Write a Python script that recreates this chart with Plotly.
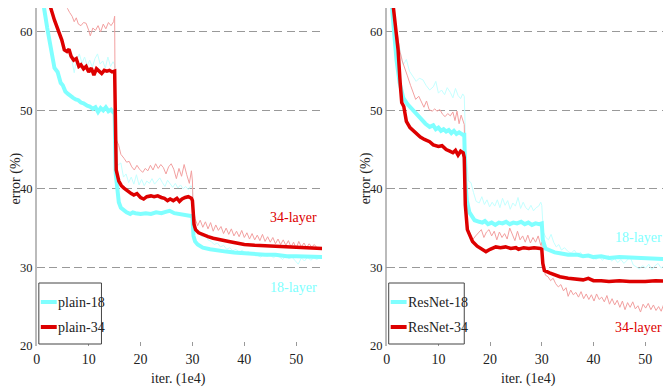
import plotly.graph_objects as go

# ---------------- data ----------------
# Left panel: plain networks
plain18_val_x = [1.0, 1.4, 2.0, 2.5, 3.0, 3.4, 4.0, 4.6, 5.0, 5.5, 6.0, 6.6, 7.0, 7.5, 8.0, 8.5, 9.0, 9.7, 10.2, 10.8,
                 11.3, 11.8, 12.3, 12.8, 13.3, 13.8, 14.3, 14.8, 15.0, 15.2, 15.5, 15.8, 16.2, 16.8, 17.3, 18.0, 18.5,
                 19.0, 20.0, 21.0, 22.0, 23.0, 24.0, 25.0, 25.6, 26.5, 27.5, 28.5, 29.5, 30.0, 30.2, 30.5, 31.0, 32.0,
                 33.4, 35.0, 36.5, 38.0, 39.8, 42.0, 44.0, 46.0, 48.2, 50.0, 52.0, 55.0]
plain18_val_y = [66.0, 63.0, 60.5, 58.5, 56.5, 55.4, 54.9, 53.5, 53.2, 52.4, 52.1, 51.7, 51.6, 51.4, 51.3, 51.0, 50.9, 50.6, 50.5, 50.2,
                 50.4, 49.8, 50.3, 50.0, 50.4, 49.9, 50.1, 49.7, 49.6, 42.0, 39.5, 38.3, 37.6, 37.2, 37.0, 36.8, 37.0,
                 36.9, 36.8, 36.9, 36.8, 37.0, 36.9, 37.1, 37.2, 36.9, 36.8, 36.7, 36.6, 36.5, 34.0, 33.3, 32.9, 32.5,
                 32.3, 32.1, 32.0, 31.9, 31.8, 31.8, 31.6, 31.6, 31.4, 31.4, 31.4, 31.3]

plain34_val_x = [2.0, 2.7, 3.4, 4.3, 4.8, 5.3, 5.8, 6.2, 6.6, 7.1, 7.6, 8.1, 8.5, 9.0, 9.5, 10.0, 10.5, 11.0, 11.5, 12.0,
                 12.5, 13.0, 13.5, 14.0, 14.5, 15.0, 15.1, 15.3, 15.8, 16.3, 16.8, 17.5, 18.2, 18.7, 19.3, 20.0, 20.6,
                 21.2, 22.0, 22.6, 23.3, 24.0, 24.6, 25.2, 25.7, 26.3, 27.0, 27.5, 28.0, 28.6, 29.2, 29.8, 30.0, 30.3,
                 30.6, 31.2, 32.1, 33.0, 34.0, 35.0, 36.0, 37.0, 38.5, 40.0, 42.0, 45.0, 47.0, 49.0, 50.0, 52.0, 55.0]
plain34_val_y = [65.0, 63.0, 61.5, 59.9, 59.0, 57.7, 57.5, 57.8, 56.9, 56.4, 56.6, 55.6, 55.8, 55.3, 55.6, 54.9, 55.4, 54.5, 55.3, 55.0,
                 54.7, 55.1, 55.0, 55.1, 54.9, 55.0, 48.0, 42.4, 41.0, 40.4, 40.1, 39.7, 39.4, 39.2, 39.4, 38.9, 38.7,
                 39.0, 39.1, 39.0, 39.1, 38.9, 38.8, 38.5, 38.7, 38.5, 38.8, 38.4, 38.7, 38.9, 39.0, 38.8, 38.5, 35.5,
                 34.8, 34.4, 34.1, 33.9, 33.7, 33.6, 33.4, 33.3, 33.1, 32.9, 32.8, 32.7, 32.6, 32.6, 32.5, 32.4, 32.4]

plain34_train_x = [5.5, 5.9, 6.3, 6.8, 7.2, 7.6, 8.0, 8.5, 9.0, 9.5, 10.0, 10.3, 10.8, 11.3, 11.8, 12.3, 12.8, 13.3, 13.8,
                   14.3, 14.8, 15.0, 15.1, 15.3, 15.8, 16.2, 16.8, 17.3, 17.8, 18.3, 18.8, 19.3, 19.8, 20.4, 20.9, 21.4,
                   21.9, 22.4, 22.9, 23.4, 23.9, 24.4, 24.9, 25.4, 25.9, 26.4, 26.9, 27.4, 27.9, 28.4, 28.9, 29.4, 29.8,
                   30.0, 30.1, 30.5, 31.0, 31.5, 32.0, 32.5, 33.0, 33.5, 34.0, 34.5, 35.0, 35.5, 36.0, 36.5, 37.0, 37.5,
                   38.0, 38.5, 39.0, 39.5, 40.0, 40.5, 41.0, 41.5, 42.0, 42.5, 43.0, 43.5, 44.0, 44.5, 45.0, 45.5, 46.0,
                   46.5, 47.0, 47.5, 48.0, 48.5, 49.0, 49.5, 50.0, 50.5, 51.0, 51.5, 52.0, 52.5, 53.0, 53.5, 54.0]
plain34_train_y = [64.0, 63.0, 62.5, 62.0, 61.3, 61.8, 61.0, 60.8, 61.2, 61.1, 60.2, 59.5, 60.5, 60.2, 60.8, 60.0, 61.0, 60.4, 61.2,
                   60.8, 61.3, 62.0, 50.0, 46.3, 45.5, 44.4, 43.9, 43.4, 43.5, 42.8, 42.4, 43.0, 42.5, 42.1, 42.6, 42.3,
                   43.0, 42.4, 43.2, 42.6, 43.1, 42.7, 41.9, 42.8, 43.2, 42.5, 41.3, 42.6, 41.6, 43.1, 41.8, 40.7, 42.3,
                   41.0, 38.0, 36.2, 35.3, 36.0, 35.1, 35.8, 34.9, 35.7, 34.6, 35.4, 34.7, 35.2, 34.3, 35.0, 34.2, 34.9,
                   34.0, 34.6, 33.9, 34.7, 33.8, 34.4, 33.6, 34.3, 33.5, 34.1, 33.4, 34.2, 33.3, 33.9, 33.2, 33.8, 33.0,
                   33.6, 32.9, 33.5, 32.8, 33.4, 32.6, 33.2, 32.4, 33.3, 32.6, 33.1, 32.5, 33.0, 32.6, 32.9, 32.5]

plain18_train_x = [6.0, 6.6, 7.2, 7.6, 8.2, 8.7, 9.2, 9.7, 10.2, 10.7, 11.2, 11.7, 12.2, 12.7, 13.2, 13.7, 14.2, 14.7, 15.0,
                   15.2, 15.6, 16.2, 16.7, 17.2, 17.7, 18.2, 18.7, 19.2, 19.7, 20.2, 20.7, 21.2, 21.7, 22.2, 22.7, 23.2,
                   23.7, 24.2, 24.7, 25.2, 25.7, 26.2, 26.7, 27.2, 27.7, 28.2, 28.7, 29.2, 29.7, 30.0, 30.2, 30.6, 31.2,
                   31.8, 32.5, 33.0, 33.6, 34.2, 34.8, 35.4, 36.0, 36.6, 37.2, 37.8, 38.4, 39.0, 39.6, 40.2, 40.8, 41.4,
                   42.0, 42.6, 43.2, 43.8, 44.4, 45.0, 45.6, 46.2, 46.8, 47.4, 48.0, 48.6, 49.2, 49.8, 50.4, 51.0, 51.6,
                   52.2, 52.8, 53.4, 54.0, 54.6]
plain18_train_y = [58.0, 57.0, 54.8, 56.3, 57.2, 56.0, 56.8, 55.7, 56.4, 55.5, 56.6, 57.2, 55.9, 56.3, 55.4, 56.8, 55.6, 56.2, 55.8,
                   46.0, 43.0, 43.3, 41.5, 41.9, 40.8, 41.5, 40.6, 41.8, 40.5, 41.2, 40.4, 41.0, 40.7, 41.3, 40.6, 41.0,
                   41.4, 40.8, 40.3, 41.1, 40.6, 40.2, 40.7, 40.1, 40.5, 40.0, 40.3, 39.9, 40.4, 40.1, 36.0, 35.0, 34.4,
                   33.9, 34.1, 33.5, 33.3, 32.9, 33.1, 32.6, 32.8, 32.3, 32.5, 32.1, 32.3, 31.9, 32.2, 31.8, 32.0, 31.6,
                   31.9, 31.5, 31.3, 31.7, 31.4, 31.6, 31.2, 31.5, 31.3, 31.0, 31.4, 31.1, 31.3, 30.9, 30.4, 31.2, 30.8,
                   31.3, 30.9, 31.2, 31.0, 31.3]

# Right panel: residual networks
res18_val_x = [0.5, 1.0, 1.5, 1.9, 2.5, 3.2, 4.0, 5.1, 6.0, 7.0, 7.5, 8.3, 9.0, 9.5, 10.0, 10.5, 11.0, 11.5, 12.0, 12.5,
               13.0, 13.5, 14.0, 14.7, 15.0, 15.2, 15.5, 16.0, 16.5, 17.0, 17.9, 18.5, 19.0, 19.6, 20.3, 21.0, 21.7,
               22.4, 23.1, 23.8, 24.5, 25.2, 26.0, 26.7, 27.4, 28.1, 28.8, 29.5, 30.0, 30.2, 30.7, 31.5, 32.5, 33.5,
               35.1, 37.0, 38.0, 39.0, 40.0, 41.5, 43.0, 45.0, 47.9, 50.0, 52.0, 55.0]
res18_val_y = [67.0, 63.0, 59.0, 56.4, 53.5, 51.6, 50.8, 50.0, 49.3, 48.6, 48.3, 47.9, 48.1, 47.6, 47.8, 47.4, 47.6, 47.3, 47.5, 47.1,
               47.4, 47.0, 47.2, 46.9, 46.9, 41.0, 38.5, 37.0, 36.4, 36.0, 35.8, 35.7, 35.9, 35.5, 35.7, 35.4, 35.7,
               35.6, 35.8, 35.5, 35.7, 35.6, 35.8, 35.5, 35.7, 35.4, 35.6, 35.5, 35.6, 33.5, 32.4, 32.2, 31.9, 31.8,
               31.6, 31.6, 31.4, 31.5, 31.3, 31.4, 31.2, 31.3, 31.2, 31.1, 31.1, 31.0]

res34_val_x = [0.8, 1.3, 1.8, 2.2, 2.6, 2.9, 3.3, 3.8, 4.5, 5.7, 6.5, 7.3, 8.3, 9.0, 10.0, 10.7, 11.5, 12.2, 12.8, 13.3,
               13.8, 14.3, 14.8, 15.0, 15.2, 15.6, 16.0, 16.6, 17.5, 18.5, 19.2, 20.0, 21.1, 22.0, 23.0, 24.0, 25.0,
               25.5, 26.5, 27.5, 28.5, 29.7, 30.0, 30.2, 30.5, 31.5, 32.5, 33.5, 35.1, 36.5, 38.0, 39.0, 40.0, 41.5,
               43.0, 45.0, 47.0, 50.0, 52.0, 55.0]
res34_val_y = [66.0, 63.0, 60.0, 57.7, 53.5, 51.0, 50.5, 48.6, 47.8, 47.1, 46.6, 46.3, 46.0, 45.6, 45.4, 45.5, 45.0, 44.8, 44.6, 44.9,
               44.3, 44.8, 44.6, 44.0, 38.0, 34.8, 34.2, 33.3, 32.7, 32.3, 32.0, 32.3, 32.6, 32.5, 32.6, 32.4, 32.5,
               32.3, 32.5, 32.4, 32.5, 32.4, 32.3, 30.5, 29.6, 29.3, 29.0, 28.8, 28.6, 28.5, 28.4, 28.6, 28.3, 28.3,
               28.2, 28.3, 28.2, 28.2, 28.3, 28.2]

res18_train_x = [2.0, 2.6, 3.2, 3.8, 4.4, 5.1, 5.7, 6.3, 7.0, 7.6, 8.3, 9.0, 9.5, 10.0, 10.6, 11.2, 11.7, 12.3, 12.8, 13.3,
                 13.8, 14.3, 14.7, 15.0, 15.3, 15.8, 16.3, 16.8, 17.3, 17.9, 18.4, 18.9, 19.4, 19.9, 20.4, 20.9, 21.4,
                 21.9, 22.4, 22.9, 23.4, 23.9, 24.4, 24.9, 25.4, 25.9, 26.4, 26.9, 27.4, 27.9, 28.4, 28.9, 29.4, 29.8,
                 30.0, 30.3, 30.8, 31.3, 31.8, 32.3, 32.8, 33.3, 33.8, 34.4, 35.1, 35.7, 36.3, 36.9, 37.5, 38.1, 38.7,
                 39.3, 39.9, 40.5, 41.1, 41.7, 42.3, 42.9, 43.5, 44.1, 44.7, 45.3, 45.9, 46.5, 47.1, 47.7, 48.3, 48.9,
                 49.5, 50.1, 50.7, 51.3, 51.9, 52.5, 53.1, 53.7, 54.3, 55.0]
res18_train_y = [60.0, 57.5, 55.8, 56.5, 55.0, 54.3, 53.7, 54.1, 53.9, 53.2, 52.6, 53.0, 53.7, 52.2, 52.6, 52.0, 52.9, 52.3, 51.6, 52.8,
                 51.9, 51.5, 52.1, 51.8, 45.0, 41.0, 40.8, 39.5, 38.4, 38.2, 39.0, 38.0, 38.6, 37.7, 38.3, 37.8, 38.6,
                 37.6, 38.8, 37.9, 38.5, 37.4, 38.2, 37.8, 38.9, 37.5, 38.3, 37.6, 37.3, 37.9, 37.2, 37.6, 37.8, 38.3,
                 37.9, 34.5, 33.8, 33.5, 34.2, 33.2, 32.6, 32.9, 32.2, 32.5, 32.0, 31.8, 32.2, 31.6, 31.9, 31.3, 31.7,
                 31.2, 31.5, 31.0, 31.4, 30.9, 31.2, 31.5, 30.8, 31.1, 30.6, 31.0, 30.5, 30.9, 31.3, 30.3, 30.1, 29.8,
                 30.2, 29.9, 30.4, 29.7, 30.2, 30.5, 29.9, 30.3, 30.6, 30.2]

res34_train_x = [2.0, 2.5, 3.0, 3.4, 4.0, 4.6, 5.1, 5.6, 6.2, 6.7, 7.2, 7.7, 8.2, 8.8, 9.3, 9.7, 10.3, 10.8, 11.3, 11.8,
                 12.3, 12.8, 13.2, 13.6, 14.0, 14.4, 14.8, 15.0, 15.2, 15.6, 16.0, 16.6, 17.2, 17.8, 18.3, 18.8, 19.3,
                 19.8, 20.3, 20.8, 21.3, 21.8, 22.3, 22.8, 23.3, 23.8, 24.3, 24.8, 25.3, 25.8, 26.3, 26.8, 27.3, 27.8,
                 28.3, 28.8, 29.3, 29.8, 30.0, 30.2, 30.7, 31.2, 31.7, 32.2, 32.7, 33.2, 33.7, 34.2, 34.7, 35.1, 35.6,
                 36.1, 36.6, 37.1, 37.6, 38.1, 38.6, 39.1, 39.6, 40.1, 40.6, 41.1, 41.6, 42.1, 42.6, 43.1, 43.6, 44.1,
                 44.6, 45.1, 45.6, 46.1, 46.6, 47.1, 47.6, 48.1, 48.6, 49.1, 49.6, 50.1, 50.6, 51.1, 51.6, 52.1, 52.6,
                 53.1, 53.6, 54.1, 54.5, 55.0]
res34_train_y = [60.0, 57.7, 56.3, 55.6, 54.4, 53.2, 52.2, 51.4, 51.8, 51.0, 50.4, 51.2, 50.1, 49.9, 50.2, 49.9, 50.1, 49.5, 49.2, 49.6,
                 49.3, 49.8, 48.7, 49.9, 48.3, 49.4, 48.4, 48.2, 40.0, 35.5, 34.2, 33.5, 34.0, 34.4, 34.8, 33.8, 34.5,
                 34.8, 34.0, 34.6, 33.5, 34.5, 33.8, 34.3, 33.6, 35.0, 34.1, 33.4, 34.6, 33.5, 34.0, 33.2, 34.1, 33.1,
                 33.8, 33.2, 34.0, 32.8, 33.2, 30.5, 29.0, 28.8, 28.3, 28.6, 27.9, 27.5, 27.8, 27.0, 27.4, 26.3, 27.1,
                 26.5, 26.8, 26.2, 26.9, 26.0, 26.6, 25.9, 26.5, 25.7, 26.6, 25.9, 26.2, 25.6, 26.4, 25.3, 26.0, 25.2,
                 25.8, 24.9, 25.7, 24.6, 25.5, 24.9, 25.6, 24.7, 25.1, 24.3, 25.3, 24.8, 25.4, 24.6, 25.2, 24.5, 25.0,
                 24.4, 25.3, 26.0, 24.5, 24.8]

x_ticks = [0, 10, 20, 30, 40, 50]
y_ticks = [20, 30, 40, 50, 60]
legend_left = ["plain-18", "plain-34"]
legend_right = ["ResNet-18", "ResNet-34"]
labels_left = ["34-layer", "18-layer"]
labels_right = ["18-layer", "34-layer"]

# ---------------- styling ----------------
CYAN = "#80FFFF"
RED = "#DD0000"
CYAN_THIN = "#C4FFFF"
RED_THIN = "#F2A0A0"
FONT = "Liberation Serif, Times New Roman, serif"
TXT = "#222222"
PAGE_OFF = 8                     # browser default body margin
W, H = 671 - PAGE_OFF, 388 - PAGE_OFF
MT, MB = 0, 42
PH = H - MT - MB

def px_x(p):   # page pixel -> paper x
    return (p - PAGE_OFF) / W

def px_y(p):   # page pixel -> paper y
    return (H - MB - (p - PAGE_OFF)) / PH

fig = go.Figure()

def add(x, y, color, width, xa, ya):
    fig.add_trace(go.Scatter(x=x, y=y, mode="lines", line=dict(color=color, width=width),
                             xaxis=xa, yaxis=ya, showlegend=False, hoverinfo="skip"))

# thin (training) curves first, thick (validation) on top
add(plain18_train_x, plain18_train_y, CYAN_THIN, 1, "x", "y")
add(plain34_train_x, plain34_train_y, RED_THIN, 1, "x", "y")
add(plain18_val_x, plain18_val_y, CYAN, 4, "x", "y")
add(plain34_val_x, plain34_val_y, RED, 3.5, "x", "y")

add(res18_train_x, res18_train_y, CYAN_THIN, 1, "x2", "y2")
add(res34_train_x, res34_train_y, RED_THIN, 1, "x2", "y2")
add(res18_val_x, res18_val_y, CYAN, 4, "x2", "y2")
add(res34_val_x, res34_val_y, RED, 3.5, "x2", "y2")

xcommon = dict(range=[0, 55], tickvals=x_ticks, ticks="inside", ticklen=4, tickcolor="#999999",
               showline=False, showgrid=False, zeroline=False,
               tickfont=dict(family=FONT, size=14, color=TXT), ticklabelstandoff=3)
ycommon = dict(range=[19.97, 63.05], tickvals=y_ticks, ticks="inside", ticklen=4, tickcolor="#999999",
               showline=True, linecolor="#BBBBBB", linewidth=1.5, zeroline=False,
               showgrid=True, gridcolor="#999999", gridwidth=1.2, griddash="8px,4.5px",
               tickfont=dict(family=FONT, size=12.5, color=TXT), ticklabelstandoff=0)

fig.update_layout(
    width=W, height=H,
    margin=dict(l=0, r=0, t=MT, b=MB),
    paper_bgcolor="white", plot_bgcolor="white",
    xaxis=dict(domain=[px_x(33), px_x(320)], anchor="y", **xcommon),
    yaxis=dict(domain=[0, 1], anchor="x", **ycommon),
    xaxis2=dict(domain=[px_x(385), 1.0], anchor="y2", **xcommon),
    yaxis2=dict(domain=[0, 1], anchor="x2", **ycommon),
)

ann = []
# axis titles
for cx in (176, 528):
    ann.append(dict(text="iter. (1e4)", xref="paper", yref="paper", x=px_x(cx), y=px_y(379),
                    showarrow=False, font=dict(family=FONT, size=14, color=TXT),
                    xanchor="center", yanchor="middle"))
for cx in (12.5, 364.5):
    ann.append(dict(text="error (%)", xref="paper", yref="paper", x=px_x(cx), y=px_y(178),
                    textangle=-90, showarrow=False, font=dict(family=FONT, size=14, color=TXT),
                    xanchor="center", yanchor="middle"))

# curve labels
ann.append(dict(text=labels_left[0], x=49.4, y=36.4, xref="x", yref="y", showarrow=False,
                font=dict(family=FONT, size=14, color=RED)))
ann.append(dict(text=labels_left[1], x=49.4, y=27.4, xref="x", yref="y", showarrow=False,
                font=dict(family=FONT, size=14, color=CYAN)))
ann.append(dict(text=labels_right[0], x=48.8, y=33.8, xref="x2", yref="y2", showarrow=False,
                font=dict(family=FONT, size=14, color=CYAN)))
ann.append(dict(text=labels_right[1], x=48.8, y=22.3, xref="x2", yref="y2", showarrow=False,
                font=dict(family=FONT, size=14, color=RED)))

# legends (box, line samples, labels)
shapes = []
for (bx0, bx1, names) in ((35, 98, legend_left), (387, 463, legend_right)):
    shapes.append(dict(type="rect", xref="paper", yref="paper",
                       x0=px_x(bx0), x1=px_x(bx1), y0=px_y(344), y1=px_y(283),
                       line=dict(color="#444444", width=1), fillcolor="white", layer="above"))
    for name, col, yy in ((names[0], CYAN, 302), (names[1], RED, 327)):
        shapes.append(dict(type="line", xref="paper", yref="paper",
                           x0=px_x(bx0 + 2), x1=px_x(bx0 + 18), y0=px_y(yy), y1=px_y(yy),
                           line=dict(color=col, width=4), layer="above"))
        ann.append(dict(text=name, xref="paper", yref="paper", x=px_x(bx0 + 17), y=px_y(yy),
                        xanchor="left", yanchor="middle", showarrow=False,
                        font=dict(family=FONT, size=14, color=TXT)))

fig.update_layout(annotations=ann, shapes=shapes)
fig.write_html("out.html")
